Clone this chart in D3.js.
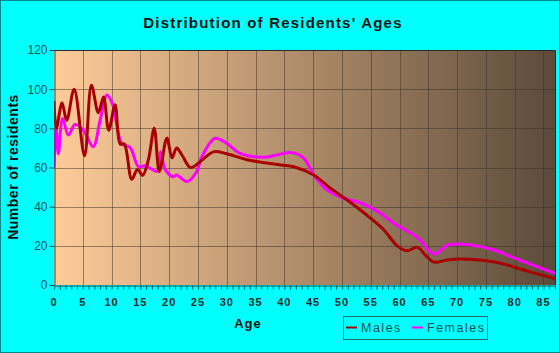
<!DOCTYPE html>
<html><head><meta charset="utf-8">
<script src="https://cdn.jsdelivr.net/npm/d3@7"></script>
<style>html,body{margin:0;padding:0;background:#00ffff;}svg{display:block;}</style>
</head><body>
<script>
const title = "Distribution of Residents' Ages";
const xLabel = "Age";
const yLabel = "Number of residents";
const seriesNames = ["Males", "Females"];
const xTicks = [0,5,10,15,20,25,30,35,40,45,50,55,60,65,70,75,80,85];
const yTicks = [0,20,40,60,80,100,120];

const maleAges = [0,0.4,1.4,2.2,3.5,5.3,6.5,7.7,8.6,9.5,10.6,11.5,12.2,13.5,14.5,15.4,16.4,17.4,18.3,19.6,20.5,21.3,22.3,23.7,25.4,27.7,30,33.5,39.3,41.6,45.1,48,50.9,53.2,55,57.3,59.6,61.3,63.1,64.5,66,68.3,70.6,75.2,78.1,82.2,87];
const maleValues = [94,80,93,84,100,66,102,88,96,79,92,72,72,54,59,56,64,80,58,75,65,70,66,60,63,68,67,64,61.3,60.4,56.2,49.4,43.4,38.3,34,28.1,20,17.5,19.2,15.3,11.7,12.8,13.3,12.4,10.7,7.1,3.3];

const femaleAges = [0,0.35,0.75,1.5,2.5,3.65,5.1,6.8,8,9.2,10.2,10.9,11.8,13.2,14.7,16,16.7,17.9,18.5,19.3,20.7,21.3,23.1,24.8,25.6,28,30,32.3,36.4,38.7,41.3,43.4,45.1,47.4,50.3,53.2,56.7,59,63.1,66,68.3,70.6,76.4,79.3,87];
const femaleValues = [60,82,67,85,76.6,82,79,70.6,84,97,92,82,72,70.3,60.4,61,59.6,58,68,59,55.3,56.2,52.8,58,65,74.9,72.3,67.2,65.2,66.4,67.6,64.7,56.2,48.5,44.3,42,36.6,31.5,24.3,15.8,20.4,20.9,17.9,14.5,6];

const W = 560, H = 353;
const m = {left:54, right:555, top:50, bottom:285};
const svg = d3.select("body").append("svg").attr("width",W).attr("height",H);
svg.append("rect").attr("x",0.5).attr("y",0.5).attr("width",W-1).attr("height",H-1)
  .attr("fill","#00ffff").attr("stroke","#008b8b");

const x = d3.scaleLinear().domain([0,87]).range([m.left,m.right]);
const y = d3.scaleLinear().domain([0,120]).range([m.bottom,m.top]);

const defs = svg.append("defs");
const g = defs.append("linearGradient").attr("id","bg").attr("x1","0").attr("x2","1").attr("y1","0").attr("y2","0");
g.append("stop").attr("offset","0").attr("stop-color","#ffcc99");
g.append("stop").attr("offset","1").attr("stop-color","#5c4a3a");
svg.append("rect").attr("x",m.left).attr("y",m.top).attr("width",m.right-m.left).attr("height",m.bottom-m.top).attr("fill","url(#bg)");

// grid
const grid = svg.append("g").attr("stroke","#3a3028").attr("stroke-opacity",0.5).attr("stroke-width",1);
xTicks.filter(d=>d>0).forEach(d=>grid.append("line").attr("x1",Math.round(x(d))+0.5).attr("x2",Math.round(x(d))+0.5).attr("y1",m.top).attr("y2",m.bottom));
yTicks.filter(d=>d>0).forEach(d=>grid.append("line").attr("y1",Math.round(y(d))+0.5).attr("y2",Math.round(y(d))+0.5).attr("x1",m.left).attr("x2",m.right));

// lines
const line = d3.line().x(d=>x(d[0])).y(d=>y(d[1])).curve(d3.curveCatmullRom.alpha(0.5));
const clip = defs.append("clipPath").attr("id","clip");
clip.append("rect").attr("x",m.left).attr("y",m.top-5).attr("width",m.right-m.left).attr("height",m.bottom-m.top+5);
const plot = svg.append("g").attr("clip-path","url(#clip)");
plot.append("path").datum(femaleAges.map((a,i)=>[a,femaleValues[i]])).attr("d",line)
  .attr("fill","none").attr("stroke","#ff00ff").attr("stroke-width",3).attr("stroke-linejoin","round");
plot.append("path").datum(maleAges.map((a,i)=>[a,maleValues[i]])).attr("d",line)
  .attr("fill","none").attr("stroke","#a80000").attr("stroke-width",3).attr("stroke-linejoin","round");

// plot frame top/right
svg.append("path").attr("d",`M${m.left},${m.top+0.5}H${m.right+0.5}V${m.bottom}`).attr("fill","none").attr("stroke","#2a2a2a").attr("stroke-width",1);

// axes
const yAxis = svg.append("g").attr("transform",`translate(${m.left+0.5},0)`)
  .call(d3.axisLeft(y).tickValues(yTicks).tickSize(5).tickSizeOuter(0).tickPadding(2));
yAxis.selectAll("line,path").attr("stroke","#1d5555");
yAxis.selectAll("text").attr("font-family","Liberation Sans, Arial, sans-serif").attr("font-size",12).attr("fill","#1d5555");

const minor = d3.range(0,88,1);
const xAxis = svg.append("g").attr("transform",`translate(0,${m.bottom+0.5})`)
  .call(d3.axisBottom(x).tickValues(minor).tickSize(4).tickSizeOuter(0).tickFormat(""));
xAxis.selectAll("line,path").attr("stroke","#1d5555");
svg.append("g").selectAll("text").data(xTicks).join("text")
  .attr("x",d=>x(d)).attr("y",306).attr("text-anchor","middle")
  .attr("font-family","Liberation Sans, Arial, sans-serif").attr("font-size",11).attr("font-weight","bold")
  .attr("letter-spacing","1px").attr("fill","#1a2a2a").text(d=>d);

// titles
svg.append("text").attr("x",273).attr("y",28).attr("text-anchor","middle")
  .attr("font-family","Liberation Sans, Arial, sans-serif").attr("font-size",15).attr("font-weight","bold")
  .attr("letter-spacing","1.2px").attr("fill","#111").text(title);
svg.append("text").attr("x",248).attr("y",328).attr("text-anchor","middle")
  .attr("font-family","Liberation Sans, Arial, sans-serif").attr("font-size",13).attr("font-weight","bold")
  .attr("letter-spacing","1px").attr("fill","#111").text(xLabel);
svg.append("text").attr("transform","translate(18,167) rotate(-90)").attr("text-anchor","middle")
  .attr("font-family","Liberation Sans, Arial, sans-serif").attr("font-size",14).attr("font-weight","bold")
  .attr("letter-spacing","0.5px").attr("fill","#111").text(yLabel);

// legend
const lg = svg.append("g");
lg.append("rect").attr("x",343.5).attr("y",316.5).attr("width",144).attr("height",23).attr("fill","none").attr("stroke","#1d6a6a");
const legendColors = ["#a80000","#ff00ff"];
const legendX = [346, 412];
seriesNames.forEach((n,i)=>{
  lg.append("line").attr("x1",legendX[i]).attr("x2",legendX[i]+11).attr("y1",327.5).attr("y2",327.5).attr("stroke",legendColors[i]).attr("stroke-width",2);
  lg.append("text").attr("x",legendX[i]+15).attr("y",332).attr("font-family","Liberation Sans, Arial, sans-serif")
    .attr("font-size",12.5).attr("letter-spacing","1.5px").attr("fill","#1d5050").text(n);
});
</script>
</body></html>
